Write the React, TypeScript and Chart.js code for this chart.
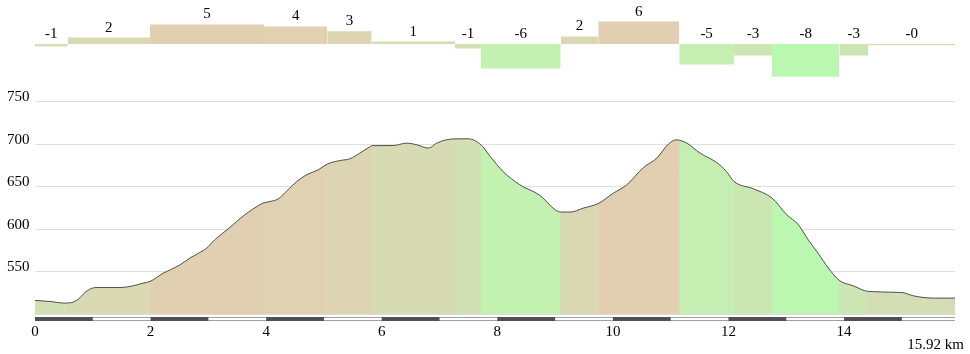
import React, { useEffect, useRef } from "react";
import { Chart, registerables } from "chart.js";

Chart.register(...registerables);

// ---- data ----
const totalKm = 15.92;
const segStartKm = [0, 0.566, 1.99, 3.963, 5.058, 5.826, 7.268, 7.718, 9.097, 9.747, 11.149, 12.095, 12.753, 13.918, 14.419];
const segGrade = [-0.6, 1.6, 4.9, 4.4, 3.2, 0.6, -1.1, -6.1, 1.9, 5.6, -5.1, -2.9, -8.2, -2.9, -0.3];

const elevKm = [
  0, 0.26, 0.52, 0.566, 0.635, 0.75, 0.865, 0.95, 1.07, 1.47, 1.7, 1.87, 1.99,
  2.22, 2.34, 2.51, 2.68, 2.83, 2.97, 3.11, 3.34, 3.63, 3.89, 3.963,
  4.07, 4.21, 4.36, 4.53, 4.7, 4.9, 5.058, 5.13, 5.28, 5.45, 5.62, 5.8, 5.826,
  6.2, 6.43, 6.61, 6.81, 6.95, 7.12, 7.268, 7.5, 7.718, 7.87,
  8.1, 8.39, 8.74, 9.0, 9.097, 9.26, 9.49, 9.747, 10.01, 10.24, 10.53, 10.76,
  10.96, 11.1, 11.149, 11.28, 11.51, 11.8, 11.96, 12.095, 12.43, 12.753,
  13.01, 13.21, 13.38, 13.55, 13.73, 13.918, 14.16, 14.419, 15.0, 15.2, 15.54, 15.92,
];
const elevM = [
  516, 514.7, 512.8, 513, 513.5, 517.5, 525.3, 529.3, 531.2, 531.2, 533.2, 536.3, 538.3,
  548.1, 552, 557.9, 565.8, 571.6, 577.5, 587.3, 600, 616.7, 628.5, 630.8,
  632.4, 635.5, 645, 655.9, 663.8, 669.6, 676.4, 678.2, 680.6, 682.6, 689.3, 697, 698,
  698.2, 701, 699, 695.2, 701, 705, 706, 706.1, 699, 686,
  667.6, 652, 639.4, 622.6, 620, 619.9, 624.6, 630, 642.2, 652, 672.4, 683.4,
  699.9, 704.9, 704.5, 701, 689.3, 678, 668, 656, 647.3, 636.4,
  616.7, 605, 587.3, 571.6, 554, 539.5, 533.2, 526.5, 525.3, 521.4, 518.7, 518.7,
];

const xTicks = [0, 2, 4, 6, 8, 10, 12, 14];
const yTicks = [550, 600, 650, 700, 750];

// ---- styling helpers ----
const FONT = '"Liberation Serif", "Times New Roman", serif';
const colorStops: [number, number[]][] = [
  [-8, [188, 247, 178]],
  [0, [213, 221, 180]],
  [6, [227, 205, 176]],
];
function gradeColor(g: number): string {
  const lo = colorStops[0], hi = colorStops[colorStops.length - 1];
  if (g <= lo[0]) return `rgb(${lo[1].join(",")})`;
  if (g >= hi[0]) return `rgb(${hi[1].join(",")})`;
  for (let i = 0; i < colorStops.length - 1; i++) {
    const [a, ca] = colorStops[i];
    const [b, cb] = colorStops[i + 1];
    if (g >= a && g <= b) {
      const t = (g - a) / (b - a);
      const c = ca.map((v, k) => Math.round(v + (cb[k] - v) * t));
      return `rgb(${c.join(",")})`;
    }
  }
  return "#ccc";
}
function segIndexAt(km: number): number {
  let idx = 0;
  for (let i = 0; i < segStartKm.length; i++) if (km >= segStartKm[i]) idx = i;
  return idx;
}
function gradeLabel(g: number): string {
  return g < 0 ? "-" + Math.round(-g) : String(Math.round(g));
}

const elevData = elevKm.map((k, i) => ({ x: k, y: elevM[i] }));
const gradeData = [
  ...segStartKm.map((k, i) => ({ x: k, y: segGrade[i] })),
  { x: totalKm, y: segGrade[segGrade.length - 1] },
];

const gradeLabelPlugin = {
  id: "gradeLabels",
  afterDatasetsDraw(chart: any) {
    const { ctx, scales } = chart;
    const x = scales.x, yG = scales.yG;
    ctx.save();
    ctx.font = `15px ${FONT}`;
    ctx.fillStyle = "#000";
    ctx.textAlign = "center";
    ctx.textBaseline = "middle";
    segStartKm.forEach((s, i) => {
      const e = i + 1 < segStartKm.length ? segStartKm[i + 1] : totalKm;
      const cx = x.getPixelForValue((s + e) / 2);
      const top = Math.min(yG.getPixelForValue(0), yG.getPixelForValue(segGrade[i]));
      ctx.fillText(gradeLabel(segGrade[i]), cx, top - 10);
    });
    ctx.restore();
  },
};

const scaleBarPlugin = {
  id: "scaleBar",
  afterDraw(chart: any) {
    const { ctx, chartArea, scales } = chart;
    const x = scales.x;
    const y0 = chartArea.bottom + 3;
    const left = x.getPixelForValue(0);
    const right = x.getPixelForValue(totalKm);
    ctx.save();
    ctx.fillStyle = "#a0a0a0";
    ctx.fillRect(left, y0, right - left, 1);
    ctx.fillRect(left, y0 + 3, right - left, 1);
    ctx.fillStyle = "#505050";
    for (let k = 0; k < totalKm; k += 2) {
      const a = x.getPixelForValue(k);
      const b = x.getPixelForValue(Math.min(k + 1, totalKm));
      ctx.fillRect(a, y0, b - a, 4);
    }
    // total distance label
    ctx.font = `15px ${FONT}`;
    ctx.fillStyle = "#000";
    ctx.textAlign = "right";
    ctx.textBaseline = "middle";
    ctx.fillText(`${totalKm} km`, chart.width - 6, chart.height - 9);
    ctx.restore();
  },
};

export default function App() {
  const ref = useRef<HTMLCanvasElement>(null);
  useEffect(() => {
    const chart = new Chart(ref.current!, {
      type: "line",
      data: {
        datasets: [
          {
            data: gradeData,
            yAxisID: "yG",
            stepped: true,
            borderWidth: 1,
            borderColor: "transparent",
            backgroundColor: "#ddd",
            pointRadius: 0,
            fill: "origin",
            segment: {
              backgroundColor: (c: any) => gradeColor(segGrade[Math.min(c.p0DataIndex, segGrade.length - 1)]),
            },
          },
          {
            data: elevData,
            yAxisID: "y",
            borderColor: "#505050",
            borderWidth: 1,
            backgroundColor: "#ddd",
            pointRadius: 0,
            cubicInterpolationMode: "monotone",
            fill: "start",
            segment: {
              backgroundColor: (c: any) =>
                gradeColor(segGrade[segIndexAt((c.p0.parsed.x + c.p1.parsed.x) / 2)]),
            },
          },
          {
            // underlay so segment seams blend instead of showing white
            data: elevData,
            yAxisID: "y",
            borderColor: "transparent",
            borderWidth: 1,
            backgroundColor: "rgb(212,221,180)",
            pointRadius: 0,
            cubicInterpolationMode: "monotone",
            fill: "start",
          },
        ],
      } as any,
      options: {
        responsive: false,
        animation: false,
        events: [],
        layout: { padding: { left: 7, right: 15, top: 10, bottom: 0 } },
        plugins: { legend: { display: false }, tooltip: { enabled: false } },
        scales: {
          x: {
            type: "linear",
            min: 0,
            max: totalKm,
            z: 1,
            grid: { display: false, drawTicks: false },
            border: { display: true, color: "#dcdcdc" },
            afterBuildTicks: (s: any) => {
              s.ticks = xTicks.map((v) => ({ value: v }));
            },
            afterFit: (s: any) => {
              s.height = 40;
            },
            ticks: {
              padding: 9,
              maxRotation: 0,
              autoSkip: false,
              color: "#000",
              font: { family: FONT, size: 15 },
              callback: (v: any) => String(v),
            },
          },
          y: {
            type: "linear",
            position: "left",
            min: 500,
            max: 500 + (314 - 10) / 0.85,
            z: 1,
            grid: { color: "rgba(0,0,0,0.12)", drawTicks: false },
            border: { display: false },
            afterBuildTicks: (s: any) => {
              s.ticks = yTicks.map((v) => ({ value: v }));
            },
            afterFit: (s: any) => {
              s.width = 28;
            },
            ticks: {
              padding: 0,
              crossAlign: "far",
              labelOffset: -4,
              color: "#000",
              font: { family: FONT, size: 15 },
              callback: (v: any) => String(v),
            },
          },
          yG: {
            type: "linear",
            position: "left",
            display: false,
            min: -67.5,
            max: 8.5,
          },
        },
      } as any,
      plugins: [gradeLabelPlugin, scaleBarPlugin],
    });
    return () => chart.destroy();
  }, []);
  return (
    <div style={{ position: "absolute", left: 0, top: 0, width: 970, height: 354 }}>
      <canvas ref={ref} width={970} height={354} />
    </div>
  );
}
